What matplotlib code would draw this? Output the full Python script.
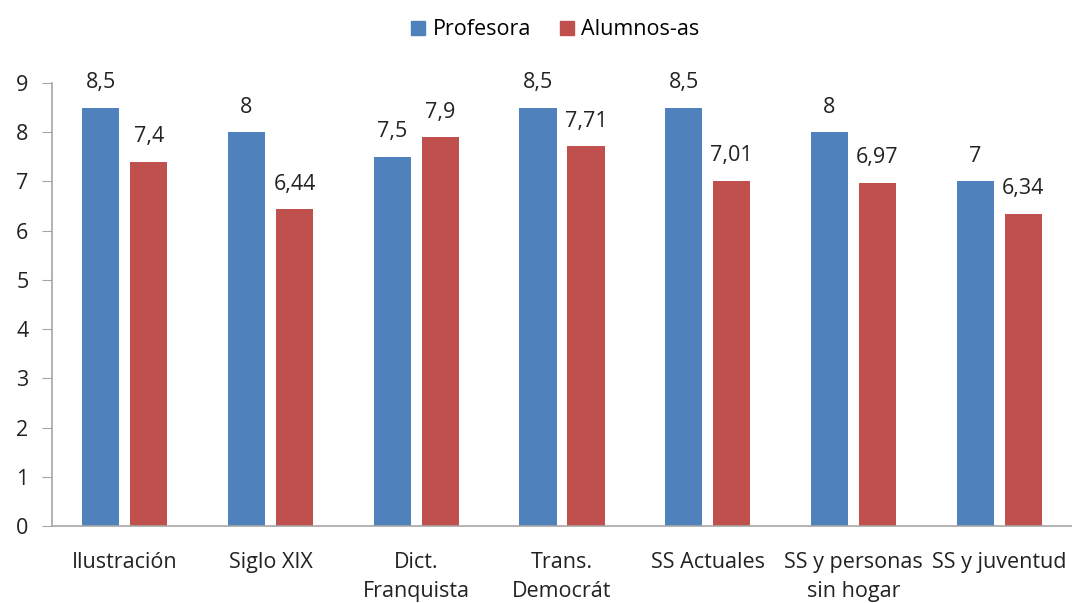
import numpy as np
import matplotlib
matplotlib.use("Agg")
import matplotlib.pyplot as plt
from matplotlib.patches import Patch

plt.rcParams["font.family"] = ["Open Sans", "DejaVu Sans"]

categorias = ["Ilustración", "Siglo XIX", "Dict.\nFranquista", "Trans.\nDemocrát",
              "SS Actuales", "SS y personas\nsin hogar", "SS y juventud"]
profesora = [8.5, 8, 7.5, 8.5, 8.5, 8, 7]
alumnos = [7.4, 6.44, 7.9, 7.71, 7.01, 6.97, 6.34]

AZUL = "#4F81BD"
ROJO = "#C0504D"
GRIS = "#A6A6A6"
TXT = "#222222"
FS = 15.5


def etiqueta(v):
    return f"{v:g}".replace(".", ",")


fig = plt.figure(figsize=(10.72, 6.03), dpi=100)
ax = fig.add_axes([0.0485, 0.1277, 0.9515, 0.7347])

x = np.arange(len(categorias))
w = 0.255
off = 0.165
b1 = ax.bar(x - off, profesora, width=w, color=AZUL)
b2 = ax.bar(x + off, alumnos, width=w, color=ROJO)

for bars, vals in ((b1, profesora), (b2, alumnos)):
    for b, v in zip(bars, vals):
        ax.annotate(etiqueta(v), (b.get_x() + b.get_width() / 2, v),
                    xytext=(0, 14), textcoords="offset points",
                    ha="center", va="baseline", fontsize=FS, color=TXT)

ax.set_xlim(-0.5, len(categorias) - 0.5)
ax.set_ylim(0, 9)
ax.set_yticks(range(10))
ax.set_xticks(x)
ax.set_xticklabels(categorias, fontsize=FS, color=TXT, linespacing=1.45)
ax.tick_params(axis="x", length=0, pad=19)
ax.tick_params(axis="y", length=7, color=GRIS, labelsize=FS, labelcolor=TXT, pad=10)

for s in ("top", "right"):
    ax.spines[s].set_visible(False)
for s in ("left", "bottom"):
    ax.spines[s].set_color(GRIS)
    ax.spines[s].set_linewidth(1.2)

handles = [Patch(color=AZUL, label="Profesora"), Patch(color=ROJO, label="Alumnos-as")]
fig.legend(handles=handles, loc="upper center", bbox_to_anchor=(0.518, 1.0), ncol=2,
           frameon=False, fontsize=FS, handlelength=0.65, handleheight=0.65,
           handletextpad=0.35, columnspacing=1.35)

fig.savefig("out.png", dpi=100)
